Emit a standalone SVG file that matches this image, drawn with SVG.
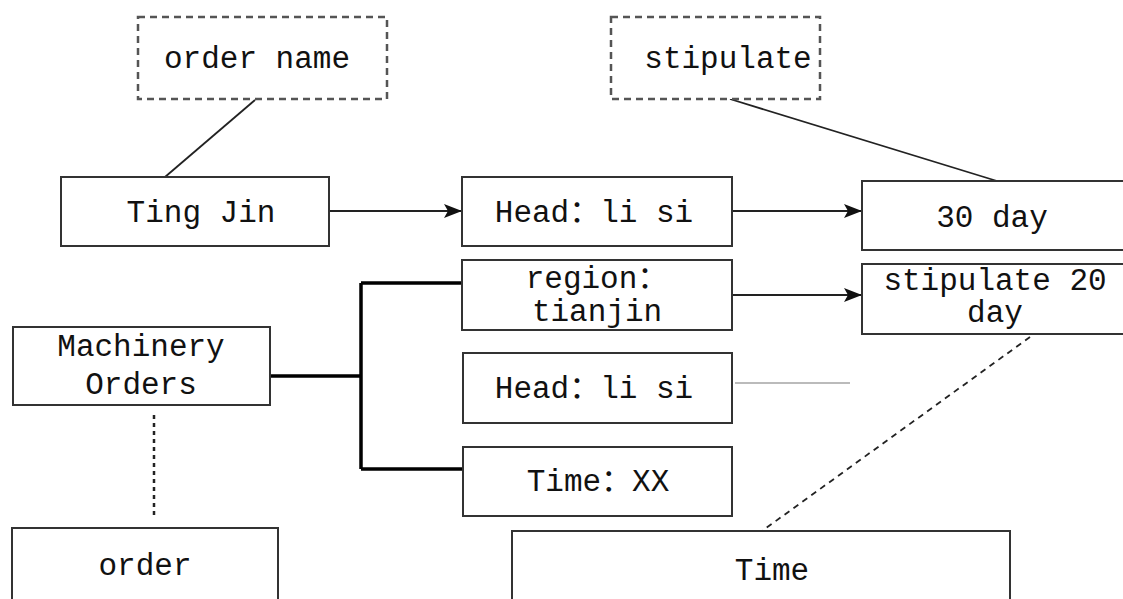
<svg xmlns="http://www.w3.org/2000/svg" width="1123" height="599" viewBox="0 0 1123 599">
<style>
.box{fill:#fff;stroke:#333;stroke-width:2}
.dbox{fill:#fff;stroke:#555;stroke-width:2.5;stroke-dasharray:7,5}
.t{font-family:"Liberation Mono","Noto Sans CJK SC",monospace;font-size:31px;fill:#111;text-anchor:middle}
.ln{stroke:#222;stroke-width:1.8;fill:none}
</style>
<defs>
<marker id="ah" markerWidth="18" markerHeight="14" refX="17" refY="7" orient="auto" markerUnits="userSpaceOnUse">
<path d="M0,0 L18,7 L0,14 L4,7 Z" fill="#111"/>
</marker>
</defs>
<g id="connectors">
<line class="ln" x1="255" y1="100" x2="165" y2="177"/>
<line class="ln" x1="730" y1="99" x2="997" y2="181"/>
<line class="ln" x1="329" y1="211" x2="461" y2="211" marker-end="url(#ah)"/>
<line class="ln" x1="732" y1="211" x2="861" y2="211" marker-end="url(#ah)"/>
<line class="ln" x1="732" y1="295" x2="861" y2="295" marker-end="url(#ah)"/>
<line x1="735" y1="383" x2="850" y2="383" stroke="#bbb" stroke-width="2"/>
<path d="M270,376 H361 M361,283 V469 M361,283 H462 M361,469 H462" stroke="#000" stroke-width="3.5" fill="none"/>
<line x1="154" y1="415" x2="154" y2="518" stroke="#222" stroke-width="2.5" stroke-dasharray="4,4"/>
<line x1="1030" y1="337" x2="762" y2="531" stroke="#222" stroke-width="1.8" stroke-dasharray="6,5"/>
</g>
<g id="n-ordername"><rect class="dbox" x="138" y="17" width="249" height="82"/><text class="t" x="257" y="68">order name</text></g>
<g id="n-stipulate"><rect class="dbox" x="611" y="17" width="209" height="82"/><text class="t" x="728" y="68">stipulate</text></g>
<g id="n-tingjin"><rect class="box" x="61" y="177" width="268" height="69"/><text class="t" x="201" y="222">Ting Jin</text></g>
<g id="n-head1"><rect class="box" x="462" y="177" width="270" height="69"/><text class="t" x="594" y="222">Head：li si</text></g>
<g id="n-30day"><rect class="box" x="862" y="181" width="270" height="69"/><text class="t" x="992" y="227">30 day</text></g>
<g id="n-region"><rect class="box" x="462" y="260" width="270" height="70"/><text class="t" x="597" y="288">region：</text><text class="t" x="597" y="321">tianjin</text></g>
<g id="n-stip20"><rect class="box" x="862" y="264" width="270" height="70"/><text class="t" x="995" y="290">stipulate 20</text><text class="t" x="995" y="322">day</text></g>
<g id="n-machinery"><rect class="box" x="13" y="327" width="257" height="78"/><text class="t" x="141" y="356">Machinery</text><text class="t" x="141" y="394">Orders</text></g>
<g id="n-head2"><rect class="box" x="463" y="353" width="269" height="70"/><text class="t" x="594" y="398">Head：li si</text></g>
<g id="n-timexx"><rect class="box" x="463" y="447" width="269" height="69"/><text class="t" x="598" y="491">Time：XX</text></g>
<g id="n-order"><rect class="box" x="12" y="528" width="266" height="80"/><text class="t" x="145" y="575">order</text></g>
<g id="n-time"><rect class="box" x="512" y="531" width="498" height="80"/><text class="t" x="772" y="580">Time</text></g>
</svg>
